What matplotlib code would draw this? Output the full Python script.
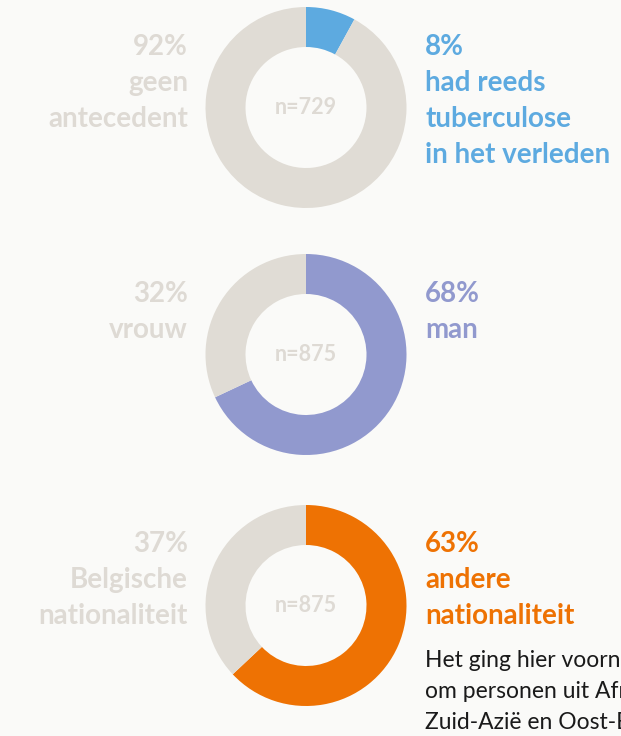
#!/usr/bin/env python3
"""
Drie donutgrafieken: antecedent, geslacht en nationaliteit van tbc-patienten.
"""
import matplotlib
matplotlib.use('Agg')
import matplotlib.pyplot as plt

# Data
pct_highlight = [8, 68, 63]
pct_rest = [92, 32, 37]
sample_sizes = [729, 875, 875]
highlight_labels = [
    ['had reeds', 'tuberculose', 'in het verleden'],
    ['man'],
    ['andere', 'nationaliteit'],
]
rest_labels = [
    ['geen', 'antecedent'],
    ['vrouw'],
    ['Belgische', 'nationaliteit'],
]
note_lines = [
    'Het ging hier voornamelijk',
    'om personen uit Afrika,',
    'Zuid-Azië en Oost-Europa',
]

# Colours
HIGHLIGHT_COLORS = ['#5DAAE0', '#9199CE', '#EE7203']
REST_COLOR = '#E0DCD5'
LABEL_GRAY = '#DEDAD4'
BG = '#FAFAF8'

W, H = 621, 736
fig = plt.figure(figsize=(W / 100, H / 100), dpi=100, facecolor=BG)
ax = fig.add_axes([0, 0, 1, 1])
ax.set_facecolor(BG)

centers_y = [107.5, 354.5, 605.5]   # pixel rows from top
first_baseline = [55, 302, 552]
cx = 306
line_h = 36

for i in range(3):
    cy = H - centers_y[i]
    ax.pie([pct_highlight[i], pct_rest[i]],
           colors=[HIGHLIGHT_COLORS[i], REST_COLOR],
           startangle=90, counterclock=False,
           radius=100.5, center=(cx, cy),
           wedgeprops=dict(width=40, linewidth=0))

    ax.text(cx, cy, f'n={sample_sizes[i]}', ha='center', va='center',
            fontsize=15.5, fontweight='bold', family='Lato', color=LABEL_GRAY)

    # right side: highlighted share
    right = [f'{pct_highlight[i]}%'] + highlight_labels[i]
    for j, line in enumerate(right):
        ax.text(425, H - (first_baseline[i] + j * line_h), line,
                ha='left', va='baseline', fontsize=20, fontweight='bold',
                family='Lato', color=HIGHLIGHT_COLORS[i])

    # left side: the rest
    left = [f'{pct_rest[i]}%'] + rest_labels[i]
    for j, line in enumerate(left):
        ax.text(188, H - (first_baseline[i] + j * line_h), line,
                ha='right', va='baseline', fontsize=20, fontweight='bold',
                family='Lato', color=LABEL_GRAY)

# note text runs off the right edge, as in the original layout
for j, line in enumerate(note_lines):
    ax.text(425, H - (667 + j * 31), line, ha='left', va='baseline',
            fontsize=16.5, family='Lato', color='#1A1A1A')

ax.set_xlim(0, W)
ax.set_ylim(0, H)
ax.set_aspect('auto')
ax.axis('off')

plt.savefig('out.png', dpi=100, facecolor=BG)
plt.close()
